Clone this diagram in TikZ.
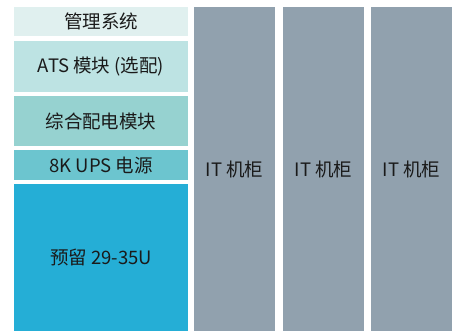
\documentclass[tikz,border=0pt]{standalone}
\usepackage{fontspec}
\setmainfont{Noto Sans CJK SC}
\usetikzlibrary{positioning}

\definecolor{mgmtcol}{HTML}{E0F0EF}
\definecolor{atscol}{HTML}{BDE3E3}
\definecolor{pducol}{HTML}{96D2D0}
\definecolor{upscol}{HTML}{6CC5CF}
\definecolor{rsvcol}{HTML}{25AED6}
\definecolor{rackcol}{HTML}{91A1AE}
\definecolor{txtcol}{HTML}{1A1A1A}

\begin{document}
\begin{tikzpicture}[x=1pt,y=-1pt]
		\useasboundingbox (0,0) rectangle (459,331);
		\begin{scope}[every node/.style={inner sep=0pt,text=txtcol,
			font=\fontsize{18.5}{22}\selectfont,minimum width=174pt}]
			\node[fill=mgmtcol,minimum height=29pt] (mgmt) at (101,21.5) {管理系统};
			\node[fill=atscol,minimum height=51pt] (ats) at (101,66.5) {ATS 模块 (选配)};
			\node[fill=pducol,minimum height=50pt] (pdu) at (101,121) {综合配电模块};
			\node[fill=upscol,minimum height=30pt] (ups) at (101,165) {8K UPS 电源};
			\node[fill=rsvcol,minimum height=147pt] (rsv) at (101,257.5) {预留 29-35U};
		\end{scope}
	
		\begin{scope}[every node/.style={inner sep=0pt,text=txtcol,fill=rackcol,
			font=\fontsize{18.5}{22}\selectfont,minimum width=81pt,minimum height=324pt}]
			\node (rack1) at (234.5,169) {IT 机柜};
			\node (rack2) at (323.5,169) {IT 机柜};
			\node (rack3) at (411.5,169) {IT 机柜};
		\end{scope}
	\end{tikzpicture}
\end{document}
